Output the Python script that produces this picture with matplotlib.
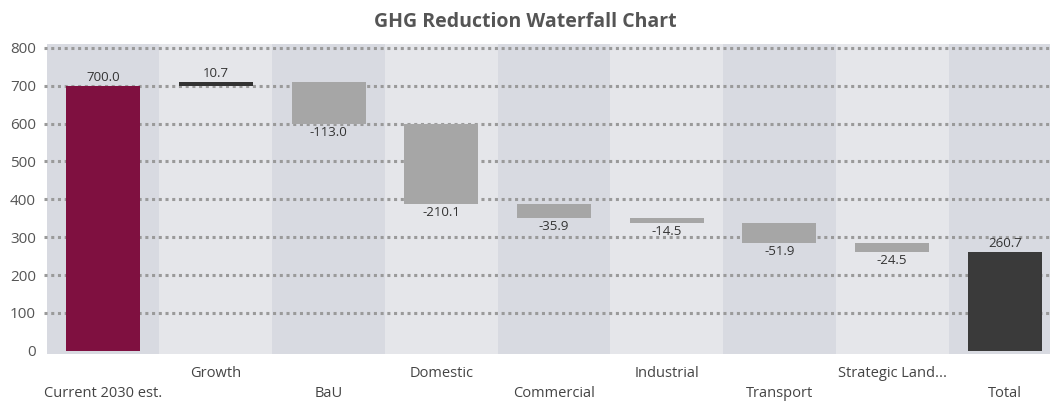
import numpy as np
import matplotlib.pyplot as plt

plt.rcParams['font.family'] = ['Open Sans', 'DejaVu Sans']

# data
categories = ['Current 2030 est.', 'Growth', 'BaU', 'Domestic', 'Commercial',
              'Industrial', 'Transport', 'Strategic Land...', 'Total']
start_value = 700.0
changes = [10.7, -113.0, -210.1, -35.9, -14.5, -51.9, -24.5]
total_value = 260.7

# build waterfall bottoms/heights
bottoms = [0]
heights = [start_value]
running = start_value
for c in changes:
    if c >= 0:
        bottoms.append(running)
    else:
        bottoms.append(running + c)
    heights.append(abs(c))
    running += c
bottoms.append(0)
heights.append(total_value)

labels = [start_value] + changes + [total_value]

colors = ['#7f1040'] + ['#333333' if c >= 0 else '#a6a6a6' for c in changes] + ['#3a3a3a']

fig = plt.figure(figsize=(10.51, 4.04), dpi=100)
ax = fig.add_axes([0.042, 0.124, 0.957, 0.767])

x = np.arange(len(categories))
ax.set_xlim(-0.523, len(categories) - 0.6)
ax.set_ylim(-8, 810)

# alternating background bands
for i in x:
    col = '#d8dae1' if i % 2 == 0 else '#e5e6ea'
    ax.axvspan(i - 0.5, i + 0.5, color=col, zorder=0, lw=0)

# dotted grid
for v in range(100, 801, 100):
    ax.axhline(v, color='#9a9a9a', lw=2.2, linestyle=(0, (1, 1.2)), zorder=1)

ax.bar(x, heights, bottom=bottoms, width=0.656, color=colors, zorder=2)

for i, lab in enumerate(labels):
    txt = '%.1f' % lab
    if lab >= 0:
        ax.text(i, bottoms[i] + heights[i] + 5, txt, ha='center', va='bottom',
                fontsize=9.5, color='#333333', zorder=3)
    else:
        ax.text(i, bottoms[i] - 5, txt, ha='center', va='top',
                fontsize=9.5, color='#333333', zorder=3)

ax.set_yticks(range(0, 801, 100))
ax.tick_params(axis='y', length=0, labelsize=11, labelcolor='#555555', pad=6)
ax.set_xticks([])
for i, c in enumerate(categories):
    ypos = -0.105 if i % 2 == 0 else -0.04
    ax.text(i, ypos, c, transform=ax.get_xaxis_transform(), ha='center', va='top',
            fontsize=10.5, color='#444444')

for s in ax.spines.values():
    s.set_visible(False)

fig.text(0.5, 0.945, 'GHG Reduction Waterfall Chart', ha='center', va='center',
         fontsize=14, fontweight='bold', color='#555555')

fig.savefig('out.png', dpi=100, facecolor='white')
